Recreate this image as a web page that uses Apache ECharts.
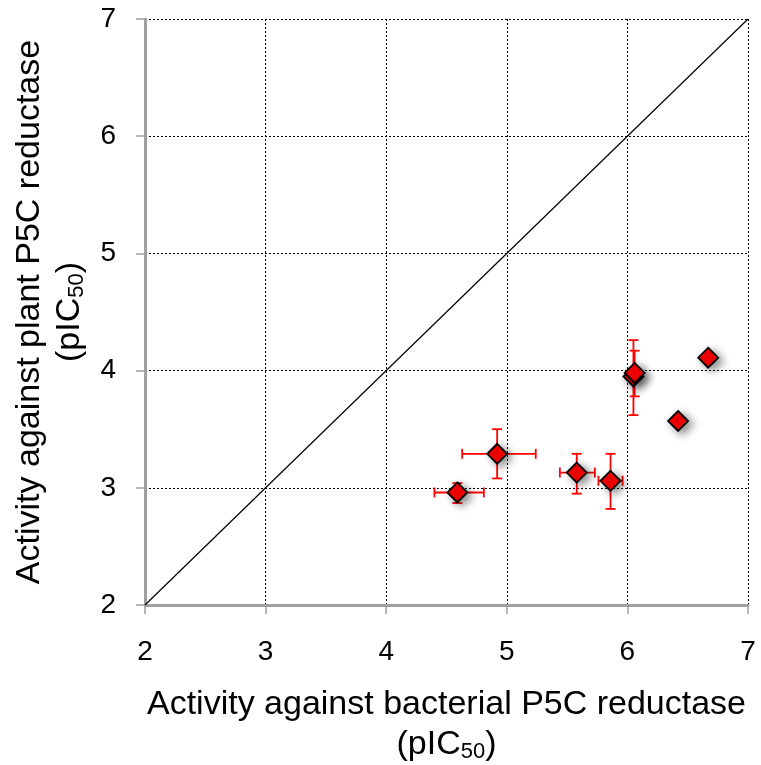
<!DOCTYPE html>
<html>
  <head>
    <meta charset="UTF-8">
    <title>P5C reductase activity</title>
    <script src="https://cdn.jsdelivr.net/npm/echarts@6/dist/echarts.min.js"></script>
    <style>
      html, body { margin: 0; padding: 0; background: #fff; }
      #main { width: 761px; height: 765px; }
    </style>
  </head>
  <body>
    <div id="main"></div>
    <script>
// values
var bacterial = [4.59, 4.92, 5.58, 5.86, 6.05, 6.06, 6.42, 6.67];
var plant     = [2.96, 3.29, 3.13, 3.06, 3.95, 3.98, 3.57, 4.11];
var xErrLow   = [4.40, 4.63, 5.44, 5.76, 6.05, 6.06, 6.42, 6.63];
var xErrHigh  = [4.81, 5.24, 5.73, 5.96, 6.05, 6.06, 6.42, 6.71];
var yErrLow   = [2.87, 3.08, 2.95, 2.82, 3.62, 3.78, 3.57, 4.07];
var yErrHigh  = [3.04, 3.50, 3.29, 3.29, 4.26, 4.17, 3.57, 4.13];
var identity  = [2, 7];

var points = bacterial.map(function (x, i) { return [x, plant[i]]; });
var bars = bacterial.map(function (x, i) {
  return [x, plant[i], xErrLow[i], xErrHigh[i], yErrLow[i], yErrHigh[i]];
});

var myChart = echarts.init(document.getElementById('main'));

function errorBar(params, api) {
  var c = api.coord([api.value(0), api.value(1)]);
  var xl = api.coord([api.value(2), api.value(1)]);
  var xh = api.coord([api.value(3), api.value(1)]);
  var yl = api.coord([api.value(0), api.value(4)]);
  var yh = api.coord([api.value(0), api.value(5)]);
  var cap = 5;
  var st = { stroke: '#ff0000', lineWidth: 1.8 };
  var kids = [];
  if (xh[0] - xl[0] > 1) {
    kids.push({ type: 'line', shape: { x1: xl[0], y1: c[1], x2: xh[0], y2: c[1] }, style: st });
    kids.push({ type: 'line', shape: { x1: xl[0], y1: c[1] - cap, x2: xl[0], y2: c[1] + cap }, style: st });
    kids.push({ type: 'line', shape: { x1: xh[0], y1: c[1] - cap, x2: xh[0], y2: c[1] + cap }, style: st });
  }
  if (yl[1] - yh[1] > 1) {
    kids.push({ type: 'line', shape: { x1: c[0], y1: yl[1], x2: c[0], y2: yh[1] }, style: st });
    kids.push({ type: 'line', shape: { x1: c[0] - cap, y1: yl[1], x2: c[0] + cap, y2: yl[1] }, style: st });
    kids.push({ type: 'line', shape: { x1: c[0] - cap, y1: yh[1], x2: c[0] + cap, y2: yh[1] }, style: st });
  }
  return { type: 'group', children: kids };
}

var axisFont = 'Liberation Sans, Arial, sans-serif';
var subStyle = { fontFamily: axisFont, fontSize: 22, color: '#000', padding: [14, 0, 0, 0] };

var option = {
  backgroundColor: '#ffffff',
  animation: false,
  grid: { left: 145, right: 13, top: 19, bottom: 160, outerBoundsMode: 'none', containLabel: false },
  xAxis: {
    type: 'value',
    min: 2, max: 7, interval: 1,
    name: 'Activity against bacterial P5C reductase\n(pIC{sub|50})',
    nameLocation: 'middle',
    nameGap: 80,
    nameTextStyle: {
      fontFamily: axisFont, fontSize: 34, color: '#000', lineHeight: 40,
      rich: { sub: subStyle }
    },
    axisLine: { show: true, onZero: false, lineStyle: { color: '#a0a0a0', width: 3 } },
    axisTick: { show: true, length: 9, lineStyle: { color: '#a0a0a0', width: 1.5 } },
    axisLabel: { margin: 33, fontFamily: axisFont, fontSize: 28, color: '#000' },
    splitLine: { show: true, lineStyle: { color: '#000', type: [2, 2], width: 1 } }
  },
  yAxis: {
    type: 'value',
    min: 2, max: 7, interval: 1,
    name: 'Activity against plant P5C reductase\n(pIC{sub|50})',
    nameLocation: 'middle',
    nameRotate: 90,
    nameGap: 54,
    nameTextStyle: {
      fontFamily: axisFont, fontSize: 34, color: '#000', lineHeight: 40,
      rich: { sub: subStyle }
    },
    axisLine: { show: true, onZero: false, lineStyle: { color: '#a0a0a0', width: 3 } },
    axisTick: { show: true, length: 9, lineStyle: { color: '#a0a0a0', width: 1.5 } },
    axisLabel: { margin: 29, fontFamily: axisFont, fontSize: 28, color: '#000' },
    splitLine: { show: true, lineStyle: { color: '#000', type: [2, 2], width: 1 } }
  },
  series: [
    {
      type: 'line',
      data: [[identity[0], identity[0]], [identity[1], identity[1]]],
      symbol: 'none',
      lineStyle: { color: '#000', width: 1.2 },
      silent: true,
      z: 1
    },
    {
      type: 'custom',
      renderItem: errorBar,
      data: bars,
      z: 2
    },
    {
      type: 'scatter',
      data: points,
      symbol: 'diamond',
      symbolSize: 20,
      itemStyle: {
        color: '#ff0000',
        opacity: 1,
        borderColor: '#000',
        borderWidth: 1.8,
        shadowBlur: 8,
        shadowColor: 'rgba(0,0,0,0.45)',
        shadowOffsetX: 4,
        shadowOffsetY: 3
      },
      z: 3
    }
  ]
};

myChart.setOption(option);
    </script>
  </body>
</html>
